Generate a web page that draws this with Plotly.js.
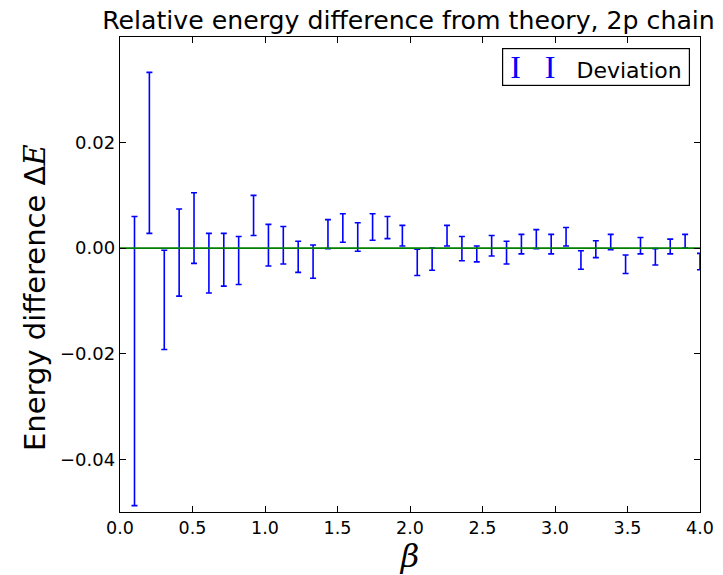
<!DOCTYPE html>
<html>
<head>
<meta charset="utf-8">
<script src="https://cdn.plot.ly/plotly-3.0.1.min.js"></script>
<style>html,body{margin:0;padding:0;background:#fff;}#chart{width:723px;height:575px;}</style>
</head>
<body>
<div id="chart"></div>
<script>
// beta values (x)
const beta = [0.1, 0.2026, 0.3053, 0.4079, 0.5105, 0.6132, 0.7158, 0.8184, 0.9211, 1.0237,
  1.1263, 1.2289, 1.3316, 1.4342, 1.5368, 1.6395, 1.7421, 1.8447, 1.9474, 2.05,
  2.1526, 2.2553, 2.3579, 2.4605, 2.5632, 2.6658, 2.7684, 2.8711, 2.9737, 3.0763,
  3.1789, 3.2816, 3.3842, 3.4868, 3.5895, 3.6921, 3.7947, 3.8974, 4.0];
// relative energy deviation (centre of each error bar)
const deviation = [-0.0214, 0.01805, -0.0098, -0.00085, 0.0038, -0.00285, -0.0022, -0.00235, 0.0062, 0.00055,
  0.00055, -0.00165, -0.00255, 0.00265, 0.0038, 0.0021, 0.0040, 0.0039, 0.00235, -0.0027,
  -0.0021, 0.00235, -0.0001, -0.0011, 0.00045, -0.00085, 0.00075, 0.0017, 0.00075, 0.00215,
  -0.00225, -0.0002, 0.00115, -0.00305, 0.00045, -0.00165, 0.0003, 0.0013, -0.00255];
// error (half-length of each bar)
const errors = [0.0274, 0.01525, 0.0094, 0.00825, 0.0067, 0.00565, 0.0050, 0.00455, 0.0038, 0.00395,
  0.00355, 0.00295, 0.00315, 0.00275, 0.0027, 0.0027, 0.0025, 0.0021, 0.00195, 0.0025,
  0.0021, 0.00195, 0.0023, 0.0015, 0.00195, 0.00215, 0.00185, 0.0018, 0.00185, 0.00175,
  0.00175, 0.0016, 0.00145, 0.00175, 0.00155, 0.00155, 0.0014, 0.0013, 0.00155];
// theory reference line
const theoryX = [0, 4];
const theoryY = [0, 0];
const xTicks = [0, 0.5, 1, 1.5, 2, 2.5, 3, 3.5, 4];
const yTicks = [-0.04, -0.02, 0, 0.02];

const traces = [
  {
    type: 'scatter', mode: 'markers', x: beta, y: deviation, name: 'Deviation',
    marker: {size: 1, color: 'rgba(0,0,0,0)'},
    error_y: {type: 'data', array: errors, symmetric: true, color: '#0000ff', thickness: 1.6, width: 3},
    showlegend: false, hoverinfo: 'skip'
  },
  {
    type: 'scatter', mode: 'lines', x: theoryX, y: theoryY, name: 'Theory',
    line: {color: '#008000', width: 1.7}, showlegend: false, hoverinfo: 'skip'
  }
];

const font = {family: 'DejaVu Sans, sans-serif', color: '#000'};
const layout = {
  width: 723, height: 575,
  margin: {l: 120, r: 23, t: 37, b: 63},
  paper_bgcolor: '#fff', plot_bgcolor: '#fff',
  showlegend: false,
  font: Object.assign({size: 18}, font),
  title: {text: 'Relative energy difference from theory, 2p chain', font: Object.assign({size: 25.2}, font),
    x: 0.565, xanchor: 'center', xref: 'container', y: 0.965, yanchor: 'middle', yref: 'container'},
  xaxis: {
    range: [0, 4], tickvals: xTicks, tickformat: '.1f',
    ticks: 'inside', ticklen: 6, tickcolor: '#000', tickwidth: 1,
    showline: true, linecolor: '#000', linewidth: 1.3, mirror: 'allticks',
    showgrid: false, zeroline: false,
    tickfont: Object.assign({size: 17.5}, font),
    title: {text: '<i>β</i>', font: {family: 'DejaVu Serif, serif', size: 32, color: '#000'}, standoff: 2}
  },
  yaxis: {
    range: [-0.05, 0.04], tickvals: yTicks, tickformat: '.2f',
    ticks: 'inside', ticklen: 6, tickcolor: '#000', tickwidth: 1,
    showline: true, linecolor: '#000', linewidth: 1.3, mirror: 'allticks',
    showgrid: false, zeroline: false,
    tickfont: Object.assign({size: 18}, font)
  },
  annotations: [
    {
      xref: 'paper', yref: 'paper', x: -0.1466, y: 0.4526, xanchor: 'center', yanchor: 'middle',
      textangle: -90, showarrow: false,
      text: 'Energy difference Δ<i><span style="font-family:DejaVu Serif">E</span></i>',
      font: Object.assign({size: 29}, font)
    },
    {
      xref: 'paper', yref: 'paper', x: 0.983, y: 0.977, xanchor: 'right', yanchor: 'top',
      text: '&nbsp;<span style="color:#0000ff;font-family:Liberation Serif;font-size:32px">I&nbsp;&nbsp;&nbsp;I</span>&nbsp;&nbsp;&nbsp;Deviation&nbsp;',
      showarrow: false, font: Object.assign({size: 22}, font),
      bordercolor: '#000', borderwidth: 1.2, borderpad: 0, bgcolor: '#fff'
    }
  ]
};

Plotly.newPlot('chart', traces, layout, {displayModeBar: false, staticPlot: true});
</script>
</body>
</html>
